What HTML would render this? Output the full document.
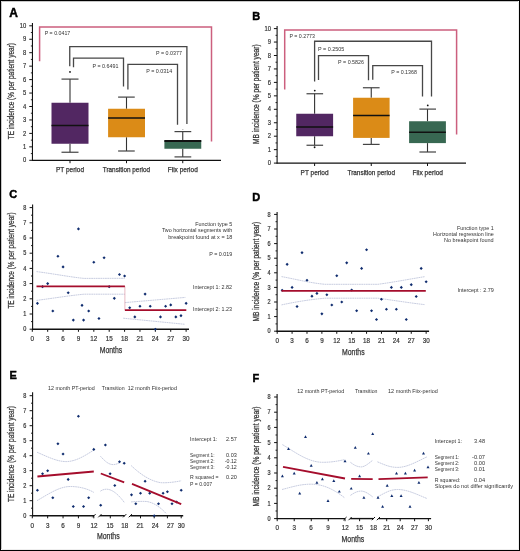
<!DOCTYPE html>
<html><head><meta charset="utf-8"><title>Figure</title>
<style>
html,body{margin:0;padding:0;background:#fff;}
body{width:520px;height:551px;overflow:hidden;}
.fig{position:relative;width:520px;height:551px;background:#fff;}
svg{position:absolute;left:0;top:0;will-change:transform;}
svg text{font-family:"Liberation Sans", sans-serif;}
</style></head><body>
<div class="fig">
<svg width="520" height="551" viewBox="0 0 520 551">
<path d="M1.5,549 V1.5 H518" fill="none" stroke="#c8c8c8" stroke-width="1"/>
<path d="M2,549.5 H518.5 V2" fill="none" stroke="#eeeeee" stroke-width="1"/>
<rect x="0.5" y="0.5" width="519" height="550" fill="none" stroke="#000" stroke-width="1"/>
<text x="9.20" y="16.80" font-size="12" fill="#000" stroke="#000" stroke-width="0.45" font-weight="bold">A</text>
<line x1="32.45" y1="23.00" x2="32.45" y2="160.80" stroke="#111" stroke-width="1.1" />
<line x1="29.25" y1="160.30" x2="32.45" y2="160.30" stroke="#111" stroke-width="1.0" />
<text x="26.30" y="162.40" font-size="7.0" fill="#333" stroke="#333" stroke-width="0.2" text-anchor="end" textLength="3.25" lengthAdjust="spacingAndGlyphs">0</text>
<line x1="30.85" y1="153.58" x2="32.45" y2="153.58" stroke="#111" stroke-width="0.9" />
<line x1="29.25" y1="146.85" x2="32.45" y2="146.85" stroke="#111" stroke-width="1.0" />
<text x="26.30" y="148.95" font-size="7.0" fill="#333" stroke="#333" stroke-width="0.2" text-anchor="end" textLength="3.25" lengthAdjust="spacingAndGlyphs">1</text>
<line x1="30.85" y1="140.13" x2="32.45" y2="140.13" stroke="#111" stroke-width="0.9" />
<line x1="29.25" y1="133.40" x2="32.45" y2="133.40" stroke="#111" stroke-width="1.0" />
<text x="26.30" y="135.50" font-size="7.0" fill="#333" stroke="#333" stroke-width="0.2" text-anchor="end" textLength="3.25" lengthAdjust="spacingAndGlyphs">2</text>
<line x1="30.85" y1="126.68" x2="32.45" y2="126.68" stroke="#111" stroke-width="0.9" />
<line x1="29.25" y1="119.95" x2="32.45" y2="119.95" stroke="#111" stroke-width="1.0" />
<text x="26.30" y="122.05" font-size="7.0" fill="#333" stroke="#333" stroke-width="0.2" text-anchor="end" textLength="3.25" lengthAdjust="spacingAndGlyphs">3</text>
<line x1="30.85" y1="113.23" x2="32.45" y2="113.23" stroke="#111" stroke-width="0.9" />
<line x1="29.25" y1="106.50" x2="32.45" y2="106.50" stroke="#111" stroke-width="1.0" />
<text x="26.30" y="108.60" font-size="7.0" fill="#333" stroke="#333" stroke-width="0.2" text-anchor="end" textLength="3.25" lengthAdjust="spacingAndGlyphs">4</text>
<line x1="30.85" y1="99.78" x2="32.45" y2="99.78" stroke="#111" stroke-width="0.9" />
<line x1="29.25" y1="93.05" x2="32.45" y2="93.05" stroke="#111" stroke-width="1.0" />
<text x="26.30" y="95.15" font-size="7.0" fill="#333" stroke="#333" stroke-width="0.2" text-anchor="end" textLength="3.25" lengthAdjust="spacingAndGlyphs">5</text>
<line x1="30.85" y1="86.33" x2="32.45" y2="86.33" stroke="#111" stroke-width="0.9" />
<line x1="29.25" y1="79.60" x2="32.45" y2="79.60" stroke="#111" stroke-width="1.0" />
<text x="26.30" y="81.70" font-size="7.0" fill="#333" stroke="#333" stroke-width="0.2" text-anchor="end" textLength="3.25" lengthAdjust="spacingAndGlyphs">6</text>
<line x1="30.85" y1="72.88" x2="32.45" y2="72.88" stroke="#111" stroke-width="0.9" />
<line x1="29.25" y1="66.15" x2="32.45" y2="66.15" stroke="#111" stroke-width="1.0" />
<text x="26.30" y="68.25" font-size="7.0" fill="#333" stroke="#333" stroke-width="0.2" text-anchor="end" textLength="3.25" lengthAdjust="spacingAndGlyphs">7</text>
<line x1="30.85" y1="59.43" x2="32.45" y2="59.43" stroke="#111" stroke-width="0.9" />
<line x1="29.25" y1="52.70" x2="32.45" y2="52.70" stroke="#111" stroke-width="1.0" />
<text x="26.30" y="54.80" font-size="7.0" fill="#333" stroke="#333" stroke-width="0.2" text-anchor="end" textLength="3.25" lengthAdjust="spacingAndGlyphs">8</text>
<line x1="30.85" y1="45.98" x2="32.45" y2="45.98" stroke="#111" stroke-width="0.9" />
<line x1="29.25" y1="39.25" x2="32.45" y2="39.25" stroke="#111" stroke-width="1.0" />
<text x="26.30" y="41.35" font-size="7.0" fill="#333" stroke="#333" stroke-width="0.2" text-anchor="end" textLength="3.25" lengthAdjust="spacingAndGlyphs">9</text>
<line x1="30.85" y1="32.53" x2="32.45" y2="32.53" stroke="#111" stroke-width="0.9" />
<line x1="29.25" y1="25.80" x2="32.45" y2="25.80" stroke="#111" stroke-width="1.0" />
<text x="26.30" y="27.90" font-size="7.0" fill="#333" stroke="#333" stroke-width="0.2" text-anchor="end" textLength="6.50" lengthAdjust="spacingAndGlyphs">10</text>
<line x1="32.00" y1="160.30" x2="221.00" y2="160.30" stroke="#111" stroke-width="1.3" />
<line x1="70.00" y1="160.30" x2="70.00" y2="163.20" stroke="#111" stroke-width="1.0" />
<line x1="126.50" y1="160.30" x2="126.50" y2="163.20" stroke="#111" stroke-width="1.0" />
<line x1="182.75" y1="160.30" x2="182.75" y2="163.20" stroke="#111" stroke-width="1.0" />
<text x="14.10" y="91.10" font-size="8.4" fill="#333" stroke="#333" stroke-width="0.25" text-anchor="middle" textLength="96.20" lengthAdjust="spacingAndGlyphs" transform="rotate(-90 14.10 91.10)">TE incidence (% per patient year)</text>
<line x1="70.00" y1="79.10" x2="70.00" y2="102.75" stroke="#333" stroke-width="1.1" />
<line x1="70.00" y1="143.75" x2="70.00" y2="152.25" stroke="#333" stroke-width="1.1" />
<line x1="61.50" y1="79.10" x2="78.50" y2="79.10" stroke="#444" stroke-width="1.2" />
<line x1="61.50" y1="152.25" x2="78.50" y2="152.25" stroke="#444" stroke-width="1.2" />
<rect x="51.50" y="102.75" width="37.00" height="41.00" fill="#522762"/>
<line x1="51.50" y1="125.60" x2="88.50" y2="125.60" stroke="#111" stroke-width="1.5" />
<line x1="126.50" y1="97.10" x2="126.50" y2="108.75" stroke="#333" stroke-width="1.1" />
<line x1="126.50" y1="137.25" x2="126.50" y2="151.00" stroke="#333" stroke-width="1.1" />
<line x1="118.10" y1="97.10" x2="134.75" y2="97.10" stroke="#444" stroke-width="1.2" />
<line x1="118.10" y1="151.00" x2="134.75" y2="151.00" stroke="#444" stroke-width="1.2" />
<rect x="108.10" y="108.75" width="36.90" height="28.50" fill="#db8b17"/>
<line x1="108.10" y1="117.90" x2="145.00" y2="117.90" stroke="#111" stroke-width="1.5" />
<line x1="182.75" y1="131.60" x2="182.75" y2="140.25" stroke="#333" stroke-width="1.1" />
<line x1="182.75" y1="148.75" x2="182.75" y2="156.90" stroke="#333" stroke-width="1.1" />
<line x1="174.50" y1="131.60" x2="191.25" y2="131.60" stroke="#444" stroke-width="1.2" />
<line x1="174.50" y1="156.90" x2="191.25" y2="156.90" stroke="#444" stroke-width="1.2" />
<rect x="164.40" y="140.25" width="36.85" height="8.50" fill="#386852"/>
<line x1="164.40" y1="141.00" x2="201.25" y2="141.00" stroke="#111" stroke-width="1.8" />
<circle cx="70.00" cy="71.90" r="0.9" fill="#111"/>
<circle cx="182.90" cy="129.40" r="0.5" fill="#888"/>
<path d="M39.6,61.3 V26.9 H211.5 V141.6" fill="none" stroke="#cc5f7e" stroke-width="1.5" />
<path d="M69.75,66.3 V46.6 H186.9 V124.1" fill="none" stroke="#474747" stroke-width="1.3" />
<path d="M73.5,67.3 V58.1 H123.5 V86.5" fill="none" stroke="#474747" stroke-width="1.3" />
<path d="M127.9,89.4 V64.4 H177.5 V124.75" fill="none" stroke="#474747" stroke-width="1.3" />
<text x="44.75" y="34.90" font-size="5.6" fill="#333" textLength="25.50" lengthAdjust="spacingAndGlyphs">P = 0.0417</text>
<text x="156.00" y="54.80" font-size="5.6" fill="#333" textLength="25.90" lengthAdjust="spacingAndGlyphs">P = 0.0377</text>
<text x="92.50" y="67.60" font-size="5.6" fill="#333" textLength="25.90" lengthAdjust="spacingAndGlyphs">P = 0.6491</text>
<text x="146.25" y="73.00" font-size="5.6" fill="#333" textLength="25.90" lengthAdjust="spacingAndGlyphs">P = 0.0314</text>
<text x="70.00" y="171.80" font-size="7" fill="#333" stroke="#333" stroke-width="0.25" text-anchor="middle" textLength="28.00" lengthAdjust="spacingAndGlyphs">PT period</text>
<text x="126.40" y="171.80" font-size="7" fill="#333" stroke="#333" stroke-width="0.25" text-anchor="middle" textLength="47.30" lengthAdjust="spacingAndGlyphs">Transition period</text>
<text x="182.75" y="171.80" font-size="7" fill="#333" stroke="#333" stroke-width="0.25" text-anchor="middle" textLength="30.00" lengthAdjust="spacingAndGlyphs">Fiix period</text>
<text x="252.30" y="19.75" font-size="11" fill="#000" stroke="#000" stroke-width="0.45" font-weight="bold">B</text>
<line x1="277.10" y1="26.00" x2="277.10" y2="163.60" stroke="#111" stroke-width="1.1" />
<line x1="273.90" y1="163.10" x2="277.10" y2="163.10" stroke="#111" stroke-width="1.0" />
<text x="271.10" y="165.20" font-size="7.0" fill="#333" stroke="#333" stroke-width="0.2" text-anchor="end" textLength="3.25" lengthAdjust="spacingAndGlyphs">0</text>
<line x1="275.50" y1="156.38" x2="277.10" y2="156.38" stroke="#111" stroke-width="0.9" />
<line x1="273.90" y1="149.65" x2="277.10" y2="149.65" stroke="#111" stroke-width="1.0" />
<text x="271.10" y="151.75" font-size="7.0" fill="#333" stroke="#333" stroke-width="0.2" text-anchor="end" textLength="3.25" lengthAdjust="spacingAndGlyphs">1</text>
<line x1="275.50" y1="142.93" x2="277.10" y2="142.93" stroke="#111" stroke-width="0.9" />
<line x1="273.90" y1="136.20" x2="277.10" y2="136.20" stroke="#111" stroke-width="1.0" />
<text x="271.10" y="138.30" font-size="7.0" fill="#333" stroke="#333" stroke-width="0.2" text-anchor="end" textLength="3.25" lengthAdjust="spacingAndGlyphs">2</text>
<line x1="275.50" y1="129.47" x2="277.10" y2="129.47" stroke="#111" stroke-width="0.9" />
<line x1="273.90" y1="122.75" x2="277.10" y2="122.75" stroke="#111" stroke-width="1.0" />
<text x="271.10" y="124.85" font-size="7.0" fill="#333" stroke="#333" stroke-width="0.2" text-anchor="end" textLength="3.25" lengthAdjust="spacingAndGlyphs">3</text>
<line x1="275.50" y1="116.03" x2="277.10" y2="116.03" stroke="#111" stroke-width="0.9" />
<line x1="273.90" y1="109.30" x2="277.10" y2="109.30" stroke="#111" stroke-width="1.0" />
<text x="271.10" y="111.40" font-size="7.0" fill="#333" stroke="#333" stroke-width="0.2" text-anchor="end" textLength="3.25" lengthAdjust="spacingAndGlyphs">4</text>
<line x1="275.50" y1="102.58" x2="277.10" y2="102.58" stroke="#111" stroke-width="0.9" />
<line x1="273.90" y1="95.85" x2="277.10" y2="95.85" stroke="#111" stroke-width="1.0" />
<text x="271.10" y="97.95" font-size="7.0" fill="#333" stroke="#333" stroke-width="0.2" text-anchor="end" textLength="3.25" lengthAdjust="spacingAndGlyphs">5</text>
<line x1="275.50" y1="89.12" x2="277.10" y2="89.12" stroke="#111" stroke-width="0.9" />
<line x1="273.90" y1="82.40" x2="277.10" y2="82.40" stroke="#111" stroke-width="1.0" />
<text x="271.10" y="84.50" font-size="7.0" fill="#333" stroke="#333" stroke-width="0.2" text-anchor="end" textLength="3.25" lengthAdjust="spacingAndGlyphs">6</text>
<line x1="275.50" y1="75.68" x2="277.10" y2="75.68" stroke="#111" stroke-width="0.9" />
<line x1="273.90" y1="68.95" x2="277.10" y2="68.95" stroke="#111" stroke-width="1.0" />
<text x="271.10" y="71.05" font-size="7.0" fill="#333" stroke="#333" stroke-width="0.2" text-anchor="end" textLength="3.25" lengthAdjust="spacingAndGlyphs">7</text>
<line x1="275.50" y1="62.23" x2="277.10" y2="62.23" stroke="#111" stroke-width="0.9" />
<line x1="273.90" y1="55.50" x2="277.10" y2="55.50" stroke="#111" stroke-width="1.0" />
<text x="271.10" y="57.60" font-size="7.0" fill="#333" stroke="#333" stroke-width="0.2" text-anchor="end" textLength="3.25" lengthAdjust="spacingAndGlyphs">8</text>
<line x1="275.50" y1="48.77" x2="277.10" y2="48.77" stroke="#111" stroke-width="0.9" />
<line x1="273.90" y1="42.05" x2="277.10" y2="42.05" stroke="#111" stroke-width="1.0" />
<text x="271.10" y="44.15" font-size="7.0" fill="#333" stroke="#333" stroke-width="0.2" text-anchor="end" textLength="3.25" lengthAdjust="spacingAndGlyphs">9</text>
<line x1="275.50" y1="35.32" x2="277.10" y2="35.32" stroke="#111" stroke-width="0.9" />
<line x1="273.90" y1="28.60" x2="277.10" y2="28.60" stroke="#111" stroke-width="1.0" />
<text x="271.10" y="30.70" font-size="7.0" fill="#333" stroke="#333" stroke-width="0.2" text-anchor="end" textLength="6.50" lengthAdjust="spacingAndGlyphs">10</text>
<line x1="276.60" y1="163.10" x2="466.00" y2="163.10" stroke="#111" stroke-width="1.3" />
<line x1="314.60" y1="163.10" x2="314.60" y2="166.00" stroke="#111" stroke-width="1.0" />
<line x1="371.25" y1="163.10" x2="371.25" y2="166.00" stroke="#111" stroke-width="1.0" />
<line x1="427.50" y1="163.10" x2="427.50" y2="166.00" stroke="#111" stroke-width="1.0" />
<text x="259.20" y="94.20" font-size="8.6" fill="#333" stroke="#333" stroke-width="0.25" text-anchor="middle" textLength="99.80" lengthAdjust="spacingAndGlyphs" transform="rotate(-90 259.20 94.20)">MB incidence (% per patient year)</text>
<line x1="314.60" y1="93.75" x2="314.60" y2="113.75" stroke="#333" stroke-width="1.1" />
<line x1="314.60" y1="136.25" x2="314.60" y2="145.25" stroke="#333" stroke-width="1.1" />
<line x1="306.50" y1="93.75" x2="323.10" y2="93.75" stroke="#444" stroke-width="1.2" />
<line x1="306.50" y1="145.25" x2="323.10" y2="145.25" stroke="#444" stroke-width="1.2" />
<rect x="296.25" y="113.75" width="36.85" height="22.50" fill="#522762"/>
<line x1="296.25" y1="126.90" x2="333.10" y2="126.90" stroke="#111" stroke-width="1.5" />
<line x1="371.25" y1="87.75" x2="371.25" y2="97.75" stroke="#333" stroke-width="1.1" />
<line x1="371.25" y1="137.90" x2="371.25" y2="144.40" stroke="#333" stroke-width="1.1" />
<line x1="362.90" y1="87.75" x2="379.60" y2="87.75" stroke="#444" stroke-width="1.2" />
<line x1="362.90" y1="144.40" x2="379.60" y2="144.40" stroke="#444" stroke-width="1.2" />
<rect x="353.10" y="97.75" width="36.50" height="40.15" fill="#db8b17"/>
<line x1="353.10" y1="115.40" x2="389.60" y2="115.40" stroke="#111" stroke-width="1.5" />
<line x1="427.50" y1="109.10" x2="427.50" y2="121.25" stroke="#333" stroke-width="1.1" />
<line x1="427.50" y1="143.10" x2="427.50" y2="152.00" stroke="#333" stroke-width="1.1" />
<line x1="419.40" y1="109.10" x2="436.00" y2="109.10" stroke="#444" stroke-width="1.2" />
<line x1="419.40" y1="152.00" x2="436.00" y2="152.00" stroke="#444" stroke-width="1.2" />
<rect x="409.10" y="121.25" width="36.80" height="21.85" fill="#386852"/>
<line x1="409.10" y1="132.25" x2="445.90" y2="132.25" stroke="#111" stroke-width="1.5" />
<circle cx="314.75" cy="90.60" r="0.9" fill="#111"/>
<circle cx="314.60" cy="147.25" r="0.9" fill="#111"/>
<circle cx="427.75" cy="105.40" r="0.9" fill="#111"/>
<path d="M284.7,89.6 V30.1 H456.6 V134.6" fill="none" stroke="#cc5f7e" stroke-width="1.5" />
<path d="M314.6,81.5 V41.25 H431.5 V96.5" fill="none" stroke="#474747" stroke-width="1.3" />
<path d="M318.5,80 V55.6 H368.5 V80.25" fill="none" stroke="#474747" stroke-width="1.3" />
<path d="M372.75,79.75 V65.6 H422.5 V96.5" fill="none" stroke="#474747" stroke-width="1.3" />
<text x="289.40" y="38.00" font-size="5.6" fill="#333" textLength="25.60" lengthAdjust="spacingAndGlyphs">P = 0.2773</text>
<text x="318.10" y="50.75" font-size="5.6" fill="#333" textLength="26.30" lengthAdjust="spacingAndGlyphs">P = 0.2505</text>
<text x="338.10" y="64.10" font-size="5.6" fill="#333" textLength="25.90" lengthAdjust="spacingAndGlyphs">P = 0.5826</text>
<text x="391.25" y="74.25" font-size="5.6" fill="#333" textLength="25.65" lengthAdjust="spacingAndGlyphs">P = 0.1368</text>
<text x="314.60" y="174.80" font-size="7" fill="#333" stroke="#333" stroke-width="0.25" text-anchor="middle" textLength="28.00" lengthAdjust="spacingAndGlyphs">PT period</text>
<text x="371.25" y="174.80" font-size="7" fill="#333" stroke="#333" stroke-width="0.25" text-anchor="middle" textLength="47.50" lengthAdjust="spacingAndGlyphs">Transition period</text>
<text x="427.75" y="174.80" font-size="7" fill="#333" stroke="#333" stroke-width="0.25" text-anchor="middle" textLength="30.50" lengthAdjust="spacingAndGlyphs">Fiix period</text>
<text x="9.20" y="198.20" font-size="11" fill="#000" stroke="#000" stroke-width="0.45" font-weight="bold">C</text>
<line x1="32.60" y1="204.50" x2="32.60" y2="329.70" stroke="#111" stroke-width="1.1" />
<line x1="29.60" y1="329.20" x2="32.60" y2="329.20" stroke="#111" stroke-width="1.0" />
<text x="26.30" y="331.40" font-size="6.3" fill="#333" stroke="#333" stroke-width="0.2" text-anchor="end" textLength="3.10" lengthAdjust="spacingAndGlyphs">0</text>
<line x1="31.00" y1="321.60" x2="32.60" y2="321.60" stroke="#111" stroke-width="0.9" />
<line x1="29.60" y1="314.00" x2="32.60" y2="314.00" stroke="#111" stroke-width="1.0" />
<text x="26.30" y="316.20" font-size="6.3" fill="#333" stroke="#333" stroke-width="0.2" text-anchor="end" textLength="3.10" lengthAdjust="spacingAndGlyphs">1</text>
<line x1="31.00" y1="306.40" x2="32.60" y2="306.40" stroke="#111" stroke-width="0.9" />
<line x1="29.60" y1="298.80" x2="32.60" y2="298.80" stroke="#111" stroke-width="1.0" />
<text x="26.30" y="301.00" font-size="6.3" fill="#333" stroke="#333" stroke-width="0.2" text-anchor="end" textLength="3.10" lengthAdjust="spacingAndGlyphs">2</text>
<line x1="31.00" y1="291.20" x2="32.60" y2="291.20" stroke="#111" stroke-width="0.9" />
<line x1="29.60" y1="283.60" x2="32.60" y2="283.60" stroke="#111" stroke-width="1.0" />
<text x="26.30" y="285.80" font-size="6.3" fill="#333" stroke="#333" stroke-width="0.2" text-anchor="end" textLength="3.10" lengthAdjust="spacingAndGlyphs">3</text>
<line x1="31.00" y1="276.00" x2="32.60" y2="276.00" stroke="#111" stroke-width="0.9" />
<line x1="29.60" y1="268.40" x2="32.60" y2="268.40" stroke="#111" stroke-width="1.0" />
<text x="26.30" y="270.60" font-size="6.3" fill="#333" stroke="#333" stroke-width="0.2" text-anchor="end" textLength="3.10" lengthAdjust="spacingAndGlyphs">4</text>
<line x1="31.00" y1="260.80" x2="32.60" y2="260.80" stroke="#111" stroke-width="0.9" />
<line x1="29.60" y1="253.20" x2="32.60" y2="253.20" stroke="#111" stroke-width="1.0" />
<text x="26.30" y="255.40" font-size="6.3" fill="#333" stroke="#333" stroke-width="0.2" text-anchor="end" textLength="3.10" lengthAdjust="spacingAndGlyphs">5</text>
<line x1="31.00" y1="245.60" x2="32.60" y2="245.60" stroke="#111" stroke-width="0.9" />
<line x1="29.60" y1="238.00" x2="32.60" y2="238.00" stroke="#111" stroke-width="1.0" />
<text x="26.30" y="240.20" font-size="6.3" fill="#333" stroke="#333" stroke-width="0.2" text-anchor="end" textLength="3.10" lengthAdjust="spacingAndGlyphs">6</text>
<line x1="31.00" y1="230.40" x2="32.60" y2="230.40" stroke="#111" stroke-width="0.9" />
<line x1="29.60" y1="222.80" x2="32.60" y2="222.80" stroke="#111" stroke-width="1.0" />
<text x="26.30" y="225.00" font-size="6.3" fill="#333" stroke="#333" stroke-width="0.2" text-anchor="end" textLength="3.10" lengthAdjust="spacingAndGlyphs">7</text>
<line x1="31.00" y1="215.20" x2="32.60" y2="215.20" stroke="#111" stroke-width="0.9" />
<line x1="29.60" y1="207.60" x2="32.60" y2="207.60" stroke="#111" stroke-width="1.0" />
<text x="26.30" y="209.80" font-size="6.3" fill="#333" stroke="#333" stroke-width="0.2" text-anchor="end" textLength="3.10" lengthAdjust="spacingAndGlyphs">8</text>
<line x1="32.10" y1="329.20" x2="189.00" y2="329.20" stroke="#111" stroke-width="1.4" />
<line x1="32.30" y1="329.20" x2="32.30" y2="331.80" stroke="#111" stroke-width="1.0" />
<line x1="47.68" y1="329.20" x2="47.68" y2="331.80" stroke="#111" stroke-width="1.0" />
<line x1="63.06" y1="329.20" x2="63.06" y2="331.80" stroke="#111" stroke-width="1.0" />
<line x1="78.44" y1="329.20" x2="78.44" y2="331.80" stroke="#111" stroke-width="1.0" />
<line x1="93.82" y1="329.20" x2="93.82" y2="331.80" stroke="#111" stroke-width="1.0" />
<line x1="109.20" y1="329.20" x2="109.20" y2="331.80" stroke="#111" stroke-width="1.0" />
<line x1="124.59" y1="329.20" x2="124.59" y2="331.80" stroke="#111" stroke-width="1.0" />
<line x1="139.97" y1="329.20" x2="139.97" y2="331.80" stroke="#111" stroke-width="1.0" />
<line x1="155.35" y1="329.20" x2="155.35" y2="331.80" stroke="#111" stroke-width="1.0" />
<line x1="170.73" y1="329.20" x2="170.73" y2="331.80" stroke="#111" stroke-width="1.0" />
<line x1="186.11" y1="329.20" x2="186.11" y2="331.80" stroke="#111" stroke-width="1.0" />
<text x="32.30" y="341.10" font-size="7.0" fill="#333" stroke="#333" stroke-width="0.2" text-anchor="middle" textLength="3.50" lengthAdjust="spacingAndGlyphs">0</text>
<text x="47.68" y="341.10" font-size="7.0" fill="#333" stroke="#333" stroke-width="0.2" text-anchor="middle" textLength="3.50" lengthAdjust="spacingAndGlyphs">3</text>
<text x="63.06" y="341.10" font-size="7.0" fill="#333" stroke="#333" stroke-width="0.2" text-anchor="middle" textLength="3.50" lengthAdjust="spacingAndGlyphs">6</text>
<text x="78.44" y="341.10" font-size="7.0" fill="#333" stroke="#333" stroke-width="0.2" text-anchor="middle" textLength="3.50" lengthAdjust="spacingAndGlyphs">9</text>
<text x="93.82" y="341.10" font-size="7.0" fill="#333" stroke="#333" stroke-width="0.2" text-anchor="middle" textLength="7.00" lengthAdjust="spacingAndGlyphs">12</text>
<text x="109.20" y="341.10" font-size="7.0" fill="#333" stroke="#333" stroke-width="0.2" text-anchor="middle" textLength="7.00" lengthAdjust="spacingAndGlyphs">15</text>
<text x="124.59" y="341.10" font-size="7.0" fill="#333" stroke="#333" stroke-width="0.2" text-anchor="middle" textLength="7.00" lengthAdjust="spacingAndGlyphs">18</text>
<text x="139.97" y="341.10" font-size="7.0" fill="#333" stroke="#333" stroke-width="0.2" text-anchor="middle" textLength="7.00" lengthAdjust="spacingAndGlyphs">21</text>
<text x="155.35" y="341.10" font-size="7.0" fill="#333" stroke="#333" stroke-width="0.2" text-anchor="middle" textLength="7.00" lengthAdjust="spacingAndGlyphs">24</text>
<text x="170.73" y="341.10" font-size="7.0" fill="#333" stroke="#333" stroke-width="0.2" text-anchor="middle" textLength="7.00" lengthAdjust="spacingAndGlyphs">27</text>
<text x="186.11" y="341.10" font-size="7.0" fill="#333" stroke="#333" stroke-width="0.2" text-anchor="middle" textLength="7.00" lengthAdjust="spacingAndGlyphs">30</text>
<text x="99.70" y="352.80" font-size="9" fill="#333" stroke="#333" stroke-width="0.25" textLength="22.60" lengthAdjust="spacingAndGlyphs">Months</text>
<text x="14.10" y="260.50" font-size="8.5" fill="#333" stroke="#333" stroke-width="0.25" text-anchor="middle" textLength="96.20" lengthAdjust="spacingAndGlyphs" transform="rotate(-90 14.10 260.50)">TE incidence (% per patient year)</text>
<path d="M36.5,271.6 C55,274 70,277 84,278.4 L124.9,278.3" fill="none" stroke="#aab2cf" stroke-width="0.65" stroke-dasharray="1.8 0.5"/>
<path d="M36.5,300.4 C55,298 70,295.5 84,294.2 L124.9,294.2" fill="none" stroke="#aab2cf" stroke-width="0.65" stroke-dasharray="1.8 0.5"/>
<path d="M124.9,302.6 L185.4,297.4" fill="none" stroke="#aab2cf" stroke-width="0.65" stroke-dasharray="1.8 0.5"/>
<path d="M123.2,318.2 L184.9,324.3" fill="none" stroke="#aab2cf" stroke-width="0.65" stroke-dasharray="1.8 0.5"/>
<path d="M37.43,301.81 L38.98,303.36 L37.43,304.91 L35.88,303.36 Z" fill="#0f2c6e"/>
<path d="M42.55,285.09 L44.10,286.64 L42.55,288.19 L41.00,286.64 Z" fill="#0f2c6e"/>
<path d="M47.68,282.05 L49.23,283.60 L47.68,285.15 L46.13,283.60 Z" fill="#0f2c6e"/>
<path d="M52.81,309.41 L54.36,310.96 L52.81,312.51 L51.26,310.96 Z" fill="#0f2c6e"/>
<path d="M57.93,254.69 L59.48,256.24 L57.93,257.79 L56.38,256.24 Z" fill="#0f2c6e"/>
<path d="M63.06,265.33 L64.61,266.88 L63.06,268.43 L61.51,266.88 Z" fill="#0f2c6e"/>
<path d="M68.19,291.17 L69.74,292.72 L68.19,294.27 L66.64,292.72 Z" fill="#0f2c6e"/>
<path d="M73.32,318.53 L74.87,320.08 L73.32,321.63 L71.77,320.08 Z" fill="#0f2c6e"/>
<path d="M78.44,227.33 L79.99,228.88 L78.44,230.43 L76.89,228.88 Z" fill="#0f2c6e"/>
<path d="M82.03,303.79 L83.58,305.34 L82.03,306.89 L80.48,305.34 Z" fill="#0f2c6e"/>
<path d="M83.57,318.53 L85.12,320.08 L83.57,321.63 L82.02,320.08 Z" fill="#0f2c6e"/>
<path d="M88.70,309.41 L90.25,310.96 L88.70,312.51 L87.15,310.96 Z" fill="#0f2c6e"/>
<path d="M93.82,260.77 L95.37,262.32 L93.82,263.87 L92.27,262.32 Z" fill="#0f2c6e"/>
<path d="M98.95,317.01 L100.50,318.56 L98.95,320.11 L97.40,318.56 Z" fill="#0f2c6e"/>
<path d="M104.08,256.21 L105.63,257.76 L104.08,259.31 L102.53,257.76 Z" fill="#0f2c6e"/>
<path d="M109.20,285.09 L110.75,286.64 L109.20,288.19 L107.66,286.64 Z" fill="#0f2c6e"/>
<path d="M114.33,296.79 L115.88,298.34 L114.33,299.89 L112.78,298.34 Z" fill="#0f2c6e"/>
<path d="M119.46,272.93 L121.01,274.48 L119.46,276.03 L117.91,274.48 Z" fill="#0f2c6e"/>
<path d="M124.59,274.45 L126.14,276.00 L124.59,277.55 L123.04,276.00 Z" fill="#0f2c6e"/>
<path d="M129.71,306.22 L131.26,307.77 L129.71,309.32 L128.16,307.77 Z" fill="#0f2c6e"/>
<path d="M134.84,315.34 L136.39,316.89 L134.84,318.44 L133.29,316.89 Z" fill="#0f2c6e"/>
<path d="M139.97,304.70 L141.52,306.25 L139.97,307.80 L138.42,306.25 Z" fill="#0f2c6e"/>
<path d="M145.09,292.54 L146.64,294.09 L145.09,295.64 L143.54,294.09 Z" fill="#0f2c6e"/>
<path d="M150.22,304.70 L151.77,306.25 L150.22,307.80 L148.67,306.25 Z" fill="#0f2c6e"/>
<path d="M155.35,327.65 L156.90,329.20 L155.35,330.75 L153.80,329.20 Z" fill="#0f2c6e"/>
<path d="M160.47,315.34 L162.02,316.89 L160.47,318.44 L158.92,316.89 Z" fill="#0f2c6e"/>
<path d="M165.60,304.70 L167.15,306.25 L165.60,307.80 L164.05,306.25 Z" fill="#0f2c6e"/>
<path d="M170.73,303.33 L172.28,304.88 L170.73,306.43 L169.18,304.88 Z" fill="#0f2c6e"/>
<path d="M175.86,315.34 L177.41,316.89 L175.86,318.44 L174.31,316.89 Z" fill="#0f2c6e"/>
<path d="M180.98,314.12 L182.53,315.67 L180.98,317.22 L179.43,315.67 Z" fill="#0f2c6e"/>
<path d="M186.11,301.81 L187.66,303.36 L186.11,304.91 L184.56,303.36 Z" fill="#0f2c6e"/>
<line x1="124.90" y1="286.40" x2="124.90" y2="310.20" stroke="#d98a99" stroke-width="0.6" />
<line x1="36.50" y1="286.40" x2="124.90" y2="286.40" stroke="#a50d2c" stroke-width="1.8" />
<line x1="124.90" y1="310.20" x2="186.30" y2="310.20" stroke="#a50d2c" stroke-width="1.8" />
<text x="232.30" y="226.20" font-size="5.6" fill="#333" text-anchor="end" textLength="37.10" lengthAdjust="spacingAndGlyphs">Function type 5</text>
<text x="232.30" y="232.40" font-size="5.6" fill="#333" text-anchor="end" textLength="70.40" lengthAdjust="spacingAndGlyphs">Two horizontal segments with</text>
<text x="232.30" y="239.10" font-size="5.6" fill="#333" text-anchor="end" textLength="64.00" lengthAdjust="spacingAndGlyphs">breakpoint found at x = 18</text>
<text x="232.30" y="256.40" font-size="5.6" fill="#333" text-anchor="end" textLength="23.10" lengthAdjust="spacingAndGlyphs">P = 0.019</text>
<text x="193.10" y="289.40" font-size="5.6" fill="#333" textLength="39.00" lengthAdjust="spacingAndGlyphs">Intercept 1: 2.82</text>
<text x="193.10" y="311.30" font-size="5.6" fill="#333" textLength="39.00" lengthAdjust="spacingAndGlyphs">Intercept 2: 1.23</text>
<text x="252.30" y="201.30" font-size="11" fill="#000" stroke="#000" stroke-width="0.45" font-weight="bold">D</text>
<line x1="277.10" y1="211.90" x2="277.10" y2="331.70" stroke="#111" stroke-width="1.1" />
<line x1="274.10" y1="331.20" x2="277.10" y2="331.20" stroke="#111" stroke-width="1.0" />
<text x="270.70" y="333.40" font-size="6.3" fill="#333" stroke="#333" stroke-width="0.2" text-anchor="end" textLength="3.10" lengthAdjust="spacingAndGlyphs">0</text>
<line x1="275.50" y1="323.90" x2="277.10" y2="323.90" stroke="#111" stroke-width="0.9" />
<line x1="274.10" y1="316.60" x2="277.10" y2="316.60" stroke="#111" stroke-width="1.0" />
<text x="270.70" y="318.80" font-size="6.3" fill="#333" stroke="#333" stroke-width="0.2" text-anchor="end" textLength="3.10" lengthAdjust="spacingAndGlyphs">1</text>
<line x1="275.50" y1="309.30" x2="277.10" y2="309.30" stroke="#111" stroke-width="0.9" />
<line x1="274.10" y1="302.00" x2="277.10" y2="302.00" stroke="#111" stroke-width="1.0" />
<text x="270.70" y="304.20" font-size="6.3" fill="#333" stroke="#333" stroke-width="0.2" text-anchor="end" textLength="3.10" lengthAdjust="spacingAndGlyphs">2</text>
<line x1="275.50" y1="294.70" x2="277.10" y2="294.70" stroke="#111" stroke-width="0.9" />
<line x1="274.10" y1="287.40" x2="277.10" y2="287.40" stroke="#111" stroke-width="1.0" />
<text x="270.70" y="289.60" font-size="6.3" fill="#333" stroke="#333" stroke-width="0.2" text-anchor="end" textLength="3.10" lengthAdjust="spacingAndGlyphs">3</text>
<line x1="275.50" y1="280.10" x2="277.10" y2="280.10" stroke="#111" stroke-width="0.9" />
<line x1="274.10" y1="272.80" x2="277.10" y2="272.80" stroke="#111" stroke-width="1.0" />
<text x="270.70" y="275.00" font-size="6.3" fill="#333" stroke="#333" stroke-width="0.2" text-anchor="end" textLength="3.10" lengthAdjust="spacingAndGlyphs">4</text>
<line x1="275.50" y1="265.50" x2="277.10" y2="265.50" stroke="#111" stroke-width="0.9" />
<line x1="274.10" y1="258.20" x2="277.10" y2="258.20" stroke="#111" stroke-width="1.0" />
<text x="270.70" y="260.40" font-size="6.3" fill="#333" stroke="#333" stroke-width="0.2" text-anchor="end" textLength="3.10" lengthAdjust="spacingAndGlyphs">5</text>
<line x1="275.50" y1="250.90" x2="277.10" y2="250.90" stroke="#111" stroke-width="0.9" />
<line x1="274.10" y1="243.60" x2="277.10" y2="243.60" stroke="#111" stroke-width="1.0" />
<text x="270.70" y="245.80" font-size="6.3" fill="#333" stroke="#333" stroke-width="0.2" text-anchor="end" textLength="3.10" lengthAdjust="spacingAndGlyphs">6</text>
<line x1="275.50" y1="236.30" x2="277.10" y2="236.30" stroke="#111" stroke-width="0.9" />
<line x1="274.10" y1="229.00" x2="277.10" y2="229.00" stroke="#111" stroke-width="1.0" />
<text x="270.70" y="231.20" font-size="6.3" fill="#333" stroke="#333" stroke-width="0.2" text-anchor="end" textLength="3.10" lengthAdjust="spacingAndGlyphs">7</text>
<line x1="275.50" y1="221.70" x2="277.10" y2="221.70" stroke="#111" stroke-width="0.9" />
<line x1="274.10" y1="214.40" x2="277.10" y2="214.40" stroke="#111" stroke-width="1.0" />
<text x="270.70" y="216.60" font-size="6.3" fill="#333" stroke="#333" stroke-width="0.2" text-anchor="end" textLength="3.10" lengthAdjust="spacingAndGlyphs">8</text>
<line x1="276.60" y1="331.20" x2="429.10" y2="331.20" stroke="#111" stroke-width="1.4" />
<line x1="277.20" y1="331.20" x2="277.20" y2="333.80" stroke="#111" stroke-width="1.0" />
<line x1="292.09" y1="331.20" x2="292.09" y2="333.80" stroke="#111" stroke-width="1.0" />
<line x1="306.99" y1="331.20" x2="306.99" y2="333.80" stroke="#111" stroke-width="1.0" />
<line x1="321.88" y1="331.20" x2="321.88" y2="333.80" stroke="#111" stroke-width="1.0" />
<line x1="336.78" y1="331.20" x2="336.78" y2="333.80" stroke="#111" stroke-width="1.0" />
<line x1="351.67" y1="331.20" x2="351.67" y2="333.80" stroke="#111" stroke-width="1.0" />
<line x1="366.57" y1="331.20" x2="366.57" y2="333.80" stroke="#111" stroke-width="1.0" />
<line x1="381.46" y1="331.20" x2="381.46" y2="333.80" stroke="#111" stroke-width="1.0" />
<line x1="396.36" y1="331.20" x2="396.36" y2="333.80" stroke="#111" stroke-width="1.0" />
<line x1="411.25" y1="331.20" x2="411.25" y2="333.80" stroke="#111" stroke-width="1.0" />
<line x1="426.15" y1="331.20" x2="426.15" y2="333.80" stroke="#111" stroke-width="1.0" />
<text x="277.20" y="343.20" font-size="7.0" fill="#333" stroke="#333" stroke-width="0.2" text-anchor="middle" textLength="3.50" lengthAdjust="spacingAndGlyphs">0</text>
<text x="292.09" y="343.20" font-size="7.0" fill="#333" stroke="#333" stroke-width="0.2" text-anchor="middle" textLength="3.50" lengthAdjust="spacingAndGlyphs">3</text>
<text x="306.99" y="343.20" font-size="7.0" fill="#333" stroke="#333" stroke-width="0.2" text-anchor="middle" textLength="3.50" lengthAdjust="spacingAndGlyphs">6</text>
<text x="321.88" y="343.20" font-size="7.0" fill="#333" stroke="#333" stroke-width="0.2" text-anchor="middle" textLength="3.50" lengthAdjust="spacingAndGlyphs">9</text>
<text x="336.78" y="343.20" font-size="7.0" fill="#333" stroke="#333" stroke-width="0.2" text-anchor="middle" textLength="7.00" lengthAdjust="spacingAndGlyphs">12</text>
<text x="351.67" y="343.20" font-size="7.0" fill="#333" stroke="#333" stroke-width="0.2" text-anchor="middle" textLength="7.00" lengthAdjust="spacingAndGlyphs">15</text>
<text x="366.57" y="343.20" font-size="7.0" fill="#333" stroke="#333" stroke-width="0.2" text-anchor="middle" textLength="7.00" lengthAdjust="spacingAndGlyphs">18</text>
<text x="381.46" y="343.20" font-size="7.0" fill="#333" stroke="#333" stroke-width="0.2" text-anchor="middle" textLength="7.00" lengthAdjust="spacingAndGlyphs">21</text>
<text x="396.36" y="343.20" font-size="7.0" fill="#333" stroke="#333" stroke-width="0.2" text-anchor="middle" textLength="7.00" lengthAdjust="spacingAndGlyphs">24</text>
<text x="411.25" y="343.20" font-size="7.0" fill="#333" stroke="#333" stroke-width="0.2" text-anchor="middle" textLength="7.00" lengthAdjust="spacingAndGlyphs">27</text>
<text x="426.15" y="343.20" font-size="7.0" fill="#333" stroke="#333" stroke-width="0.2" text-anchor="middle" textLength="7.00" lengthAdjust="spacingAndGlyphs">30</text>
<text x="342.00" y="354.90" font-size="9" fill="#333" stroke="#333" stroke-width="0.25" textLength="22.60" lengthAdjust="spacingAndGlyphs">Months</text>
<text x="259.20" y="271.60" font-size="8.5" fill="#333" stroke="#333" stroke-width="0.25" text-anchor="middle" textLength="99.60" lengthAdjust="spacingAndGlyphs" transform="rotate(-90 259.20 271.60)">MB incidence (% per patient year)</text>
<path d="M281.5,276.6 C295,279 310,283 325,284.3 L378,284.3 C395,282 410,279 424.5,276.7" fill="none" stroke="#aab2cf" stroke-width="0.65" stroke-dasharray="1.8 0.5"/>
<path d="M281.5,304.9 C295,302 310,299.5 325,298.2 L378,298.2 C395,300.5 410,303 424.5,304.6" fill="none" stroke="#aab2cf" stroke-width="0.65" stroke-dasharray="1.8 0.5"/>
<path d="M282.16,288.77 L283.71,290.32 L282.16,291.87 L280.61,290.32 Z" fill="#0f2c6e"/>
<path d="M287.13,262.78 L288.68,264.33 L287.13,265.88 L285.58,264.33 Z" fill="#0f2c6e"/>
<path d="M292.09,285.85 L293.64,287.40 L292.09,288.95 L290.54,287.40 Z" fill="#0f2c6e"/>
<path d="M297.06,304.98 L298.61,306.53 L297.06,308.08 L295.51,306.53 Z" fill="#0f2c6e"/>
<path d="M302.02,251.10 L303.57,252.65 L302.02,254.20 L300.47,252.65 Z" fill="#0f2c6e"/>
<path d="M306.99,278.70 L308.54,280.25 L306.99,281.80 L305.44,280.25 Z" fill="#0f2c6e"/>
<path d="M311.95,294.61 L313.50,296.16 L311.95,297.71 L310.40,296.16 Z" fill="#0f2c6e"/>
<path d="M316.92,291.84 L318.47,293.39 L316.92,294.94 L315.37,293.39 Z" fill="#0f2c6e"/>
<path d="M321.88,312.28 L323.44,313.83 L321.88,315.38 L320.33,313.83 Z" fill="#0f2c6e"/>
<path d="M326.85,293.15 L328.40,294.70 L326.85,296.25 L325.30,294.70 Z" fill="#0f2c6e"/>
<path d="M331.81,303.52 L333.37,305.07 L331.81,306.62 L330.26,305.07 Z" fill="#0f2c6e"/>
<path d="M336.78,274.17 L338.33,275.72 L336.78,277.27 L335.23,275.72 Z" fill="#0f2c6e"/>
<path d="M341.75,300.45 L343.30,302.00 L341.75,303.55 L340.19,302.00 Z" fill="#0f2c6e"/>
<path d="M346.71,261.32 L348.26,262.87 L346.71,264.42 L345.16,262.87 Z" fill="#0f2c6e"/>
<path d="M351.67,288.48 L353.22,290.03 L351.67,291.58 L350.12,290.03 Z" fill="#0f2c6e"/>
<path d="M356.64,309.21 L358.19,310.76 L356.64,312.31 L355.09,310.76 Z" fill="#0f2c6e"/>
<path d="M361.61,266.87 L363.16,268.42 L361.61,269.97 L360.06,268.42 Z" fill="#0f2c6e"/>
<path d="M366.57,248.18 L368.12,249.73 L366.57,251.28 L365.02,249.73 Z" fill="#0f2c6e"/>
<path d="M371.53,309.21 L373.08,310.76 L371.53,312.31 L369.98,310.76 Z" fill="#0f2c6e"/>
<path d="M376.50,317.97 L378.05,319.52 L376.50,321.07 L374.95,319.52 Z" fill="#0f2c6e"/>
<path d="M381.46,297.68 L383.01,299.23 L381.46,300.78 L379.91,299.23 Z" fill="#0f2c6e"/>
<path d="M386.43,307.75 L387.98,309.30 L386.43,310.85 L384.88,309.30 Z" fill="#0f2c6e"/>
<path d="M391.39,285.85 L392.94,287.40 L391.39,288.95 L389.84,287.40 Z" fill="#0f2c6e"/>
<path d="M396.36,307.75 L397.91,309.30 L396.36,310.85 L394.81,309.30 Z" fill="#0f2c6e"/>
<path d="M401.32,285.85 L402.88,287.40 L401.32,288.95 L399.77,287.40 Z" fill="#0f2c6e"/>
<path d="M406.29,317.97 L407.84,319.52 L406.29,321.07 L404.74,319.52 Z" fill="#0f2c6e"/>
<path d="M411.25,283.08 L412.81,284.63 L411.25,286.18 L409.70,284.63 Z" fill="#0f2c6e"/>
<path d="M416.22,294.90 L417.77,296.45 L416.22,298.00 L414.67,296.45 Z" fill="#0f2c6e"/>
<path d="M421.18,266.87 L422.73,268.42 L421.18,269.97 L419.63,268.42 Z" fill="#0f2c6e"/>
<path d="M426.15,280.16 L427.70,281.71 L426.15,283.26 L424.60,281.71 Z" fill="#0f2c6e"/>
<line x1="281.50" y1="290.80" x2="425.80" y2="290.80" stroke="#a50d2c" stroke-width="1.8" />
<text x="493.70" y="229.90" font-size="5.6" fill="#333" text-anchor="end" textLength="36.80" lengthAdjust="spacingAndGlyphs">Function type 1</text>
<text x="493.70" y="236.20" font-size="5.6" fill="#333" text-anchor="end" textLength="60.60" lengthAdjust="spacingAndGlyphs">Horizontal regression line</text>
<text x="493.70" y="242.00" font-size="5.6" fill="#333" text-anchor="end" textLength="49.70" lengthAdjust="spacingAndGlyphs">No breakpoint found</text>
<text x="493.70" y="292.00" font-size="5.6" fill="#333" text-anchor="end" textLength="36.20" lengthAdjust="spacingAndGlyphs">Intercept : 2.79</text>
<text x="9.60" y="378.80" font-size="11" fill="#000" stroke="#000" stroke-width="0.45" font-weight="bold">E</text>
<line x1="32.60" y1="392.30" x2="32.60" y2="516.20" stroke="#111" stroke-width="1.1" />
<line x1="29.60" y1="515.70" x2="32.60" y2="515.70" stroke="#111" stroke-width="1.0" />
<text x="26.30" y="517.90" font-size="6.3" fill="#333" stroke="#333" stroke-width="0.2" text-anchor="end" textLength="3.10" lengthAdjust="spacingAndGlyphs">0</text>
<line x1="31.00" y1="508.20" x2="32.60" y2="508.20" stroke="#111" stroke-width="0.9" />
<line x1="29.60" y1="500.70" x2="32.60" y2="500.70" stroke="#111" stroke-width="1.0" />
<text x="26.30" y="502.90" font-size="6.3" fill="#333" stroke="#333" stroke-width="0.2" text-anchor="end" textLength="3.10" lengthAdjust="spacingAndGlyphs">1</text>
<line x1="31.00" y1="493.20" x2="32.60" y2="493.20" stroke="#111" stroke-width="0.9" />
<line x1="29.60" y1="485.70" x2="32.60" y2="485.70" stroke="#111" stroke-width="1.0" />
<text x="26.30" y="487.90" font-size="6.3" fill="#333" stroke="#333" stroke-width="0.2" text-anchor="end" textLength="3.10" lengthAdjust="spacingAndGlyphs">2</text>
<line x1="31.00" y1="478.20" x2="32.60" y2="478.20" stroke="#111" stroke-width="0.9" />
<line x1="29.60" y1="470.70" x2="32.60" y2="470.70" stroke="#111" stroke-width="1.0" />
<text x="26.30" y="472.90" font-size="6.3" fill="#333" stroke="#333" stroke-width="0.2" text-anchor="end" textLength="3.10" lengthAdjust="spacingAndGlyphs">3</text>
<line x1="31.00" y1="463.20" x2="32.60" y2="463.20" stroke="#111" stroke-width="0.9" />
<line x1="29.60" y1="455.70" x2="32.60" y2="455.70" stroke="#111" stroke-width="1.0" />
<text x="26.30" y="457.90" font-size="6.3" fill="#333" stroke="#333" stroke-width="0.2" text-anchor="end" textLength="3.10" lengthAdjust="spacingAndGlyphs">4</text>
<line x1="31.00" y1="448.20" x2="32.60" y2="448.20" stroke="#111" stroke-width="0.9" />
<line x1="29.60" y1="440.70" x2="32.60" y2="440.70" stroke="#111" stroke-width="1.0" />
<text x="26.30" y="442.90" font-size="6.3" fill="#333" stroke="#333" stroke-width="0.2" text-anchor="end" textLength="3.10" lengthAdjust="spacingAndGlyphs">5</text>
<line x1="31.00" y1="433.20" x2="32.60" y2="433.20" stroke="#111" stroke-width="0.9" />
<line x1="29.60" y1="425.70" x2="32.60" y2="425.70" stroke="#111" stroke-width="1.0" />
<text x="26.30" y="427.90" font-size="6.3" fill="#333" stroke="#333" stroke-width="0.2" text-anchor="end" textLength="3.10" lengthAdjust="spacingAndGlyphs">6</text>
<line x1="31.00" y1="418.20" x2="32.60" y2="418.20" stroke="#111" stroke-width="0.9" />
<line x1="29.60" y1="410.70" x2="32.60" y2="410.70" stroke="#111" stroke-width="1.0" />
<text x="26.30" y="412.90" font-size="6.3" fill="#333" stroke="#333" stroke-width="0.2" text-anchor="end" textLength="3.10" lengthAdjust="spacingAndGlyphs">7</text>
<line x1="31.00" y1="403.20" x2="32.60" y2="403.20" stroke="#111" stroke-width="0.9" />
<line x1="29.60" y1="395.70" x2="32.60" y2="395.70" stroke="#111" stroke-width="1.0" />
<text x="26.30" y="397.90" font-size="6.3" fill="#333" stroke="#333" stroke-width="0.2" text-anchor="end" textLength="3.10" lengthAdjust="spacingAndGlyphs">8</text>
<line x1="32.10" y1="515.70" x2="94.00" y2="515.70" stroke="#111" stroke-width="1.4" />
<line x1="92.40" y1="517.30" x2="95.60" y2="514.10" stroke="#111" stroke-width="1.0" />
<line x1="99.90" y1="515.70" x2="124.70" y2="515.70" stroke="#111" stroke-width="1.4" />
<line x1="98.30" y1="517.30" x2="101.50" y2="514.10" stroke="#111" stroke-width="1.0" />
<line x1="123.10" y1="517.30" x2="126.30" y2="514.10" stroke="#111" stroke-width="1.0" />
<line x1="130.30" y1="515.70" x2="183.20" y2="515.70" stroke="#111" stroke-width="1.4" />
<line x1="128.70" y1="517.30" x2="131.90" y2="514.10" stroke="#111" stroke-width="1.0" />
<line x1="32.30" y1="515.70" x2="32.30" y2="518.30" stroke="#111" stroke-width="1.0" />
<line x1="47.67" y1="515.70" x2="47.67" y2="518.30" stroke="#111" stroke-width="1.0" />
<line x1="63.05" y1="515.70" x2="63.05" y2="518.30" stroke="#111" stroke-width="1.0" />
<line x1="78.42" y1="515.70" x2="78.42" y2="518.30" stroke="#111" stroke-width="1.0" />
<line x1="93.80" y1="515.70" x2="93.80" y2="518.30" stroke="#111" stroke-width="1.0" />
<line x1="110.30" y1="515.70" x2="110.30" y2="518.30" stroke="#111" stroke-width="1.0" />
<line x1="140.50" y1="515.70" x2="140.50" y2="518.30" stroke="#111" stroke-width="1.0" />
<line x1="154.20" y1="515.70" x2="154.20" y2="518.30" stroke="#111" stroke-width="1.0" />
<line x1="167.40" y1="515.70" x2="167.40" y2="518.30" stroke="#111" stroke-width="1.0" />
<line x1="181.20" y1="515.70" x2="181.20" y2="518.30" stroke="#111" stroke-width="1.0" />
<text x="32.30" y="527.80" font-size="7.0" fill="#333" stroke="#333" stroke-width="0.2" text-anchor="middle" textLength="3.50" lengthAdjust="spacingAndGlyphs">0</text>
<text x="47.70" y="527.80" font-size="7.0" fill="#333" stroke="#333" stroke-width="0.2" text-anchor="middle" textLength="3.50" lengthAdjust="spacingAndGlyphs">3</text>
<text x="63.10" y="527.80" font-size="7.0" fill="#333" stroke="#333" stroke-width="0.2" text-anchor="middle" textLength="3.50" lengthAdjust="spacingAndGlyphs">6</text>
<text x="78.50" y="527.80" font-size="7.0" fill="#333" stroke="#333" stroke-width="0.2" text-anchor="middle" textLength="3.50" lengthAdjust="spacingAndGlyphs">9</text>
<text x="94.00" y="527.80" font-size="7.0" fill="#333" stroke="#333" stroke-width="0.2" text-anchor="middle" textLength="7.00" lengthAdjust="spacingAndGlyphs">12</text>
<text x="110.10" y="527.80" font-size="7.0" fill="#333" stroke="#333" stroke-width="0.2" text-anchor="middle" textLength="7.00" lengthAdjust="spacingAndGlyphs">15</text>
<text x="124.70" y="527.80" font-size="7.0" fill="#333" stroke="#333" stroke-width="0.2" text-anchor="middle" textLength="7.00" lengthAdjust="spacingAndGlyphs">18</text>
<text x="140.10" y="527.80" font-size="7.0" fill="#333" stroke="#333" stroke-width="0.2" text-anchor="middle" textLength="7.00" lengthAdjust="spacingAndGlyphs">21</text>
<text x="155.30" y="527.80" font-size="7.0" fill="#333" stroke="#333" stroke-width="0.2" text-anchor="middle" textLength="7.00" lengthAdjust="spacingAndGlyphs">24</text>
<text x="170.50" y="527.80" font-size="7.0" fill="#333" stroke="#333" stroke-width="0.2" text-anchor="middle" textLength="7.00" lengthAdjust="spacingAndGlyphs">27</text>
<text x="181.20" y="527.80" font-size="7.0" fill="#333" stroke="#333" stroke-width="0.2" text-anchor="middle" textLength="7.00" lengthAdjust="spacingAndGlyphs">30</text>
<text x="96.90" y="539.20" font-size="9" fill="#333" stroke="#333" stroke-width="0.25" textLength="22.80" lengthAdjust="spacingAndGlyphs">Months</text>
<text x="14.10" y="454.00" font-size="8.4" fill="#333" stroke="#333" stroke-width="0.25" text-anchor="middle" textLength="96.00" lengthAdjust="spacingAndGlyphs" transform="rotate(-90 14.10 454.00)">TE incidence (% per patient year)</text>
<text x="48.00" y="389.60" font-size="5.6" fill="#333" textLength="46.80" lengthAdjust="spacingAndGlyphs">12 month PT-period</text>
<text x="101.80" y="389.60" font-size="5.6" fill="#333" textLength="22.80" lengthAdjust="spacingAndGlyphs">Transition</text>
<text x="127.70" y="389.60" font-size="5.6" fill="#333" textLength="49.20" lengthAdjust="spacingAndGlyphs">12 month Fiix-period</text>
<path d="M37,452.2 C50,458 58,461.6 66.2,461.6 C76,461.6 86,455 93.8,450.1" fill="none" stroke="#aab2cf" stroke-width="0.65" stroke-dasharray="1.8 0.5"/>
<path d="M37,500.7 C50,493 60,486.5 70.3,486.5 C80,486.5 88,489 93.8,492.4" fill="none" stroke="#aab2cf" stroke-width="0.65" stroke-dasharray="1.8 0.5"/>
<path d="M100.4,456.2 C104,460 108,464.6 113,464.6 C116,464.6 118,463.5 119.6,462.8" fill="none" stroke="#aab2cf" stroke-width="0.65" stroke-dasharray="1.8 0.5"/>
<path d="M100.4,491.2 C102,490 104,489.2 106.5,489.2 C112,489.2 118,494 124.2,502.3" fill="none" stroke="#aab2cf" stroke-width="0.65" stroke-dasharray="1.8 0.5"/>
<path d="M131.1,465.5 C140,474 150,481 160.8,482.7 C168,483 175,482 181.2,480.8" fill="none" stroke="#aab2cf" stroke-width="0.65" stroke-dasharray="1.8 0.5"/>
<path d="M131.1,501.9 C136,501.5 142,501.2 146.9,501.5 C155,503 161,508 166.2,513.5" fill="none" stroke="#aab2cf" stroke-width="0.65" stroke-dasharray="1.8 0.5"/>
<path d="M37.42,488.65 L38.97,490.20 L37.42,491.75 L35.88,490.20 Z" fill="#0f2c6e"/>
<path d="M42.55,472.15 L44.10,473.70 L42.55,475.25 L41.00,473.70 Z" fill="#0f2c6e"/>
<path d="M47.67,469.15 L49.22,470.70 L47.67,472.25 L46.12,470.70 Z" fill="#0f2c6e"/>
<path d="M52.80,496.15 L54.35,497.70 L52.80,499.25 L51.25,497.70 Z" fill="#0f2c6e"/>
<path d="M57.92,442.15 L59.47,443.70 L57.92,445.25 L56.38,443.70 Z" fill="#0f2c6e"/>
<path d="M63.05,452.50 L64.60,454.05 L63.05,455.60 L61.50,454.05 Z" fill="#0f2c6e"/>
<path d="M68.17,477.85 L69.72,479.40 L68.17,480.95 L66.62,479.40 Z" fill="#0f2c6e"/>
<path d="M73.30,505.00 L74.85,506.55 L73.30,508.10 L71.75,506.55 Z" fill="#0f2c6e"/>
<path d="M78.42,414.70 L79.97,416.25 L78.42,417.80 L76.88,416.25 Z" fill="#0f2c6e"/>
<path d="M83.55,505.00 L85.10,506.55 L83.55,508.10 L82.00,506.55 Z" fill="#0f2c6e"/>
<path d="M88.67,496.15 L90.22,497.70 L88.67,499.25 L87.12,497.70 Z" fill="#0f2c6e"/>
<path d="M93.80,447.85 L95.35,449.40 L93.80,450.95 L92.25,449.40 Z" fill="#0f2c6e"/>
<path d="M100.70,503.65 L102.25,505.20 L100.70,506.75 L99.15,505.20 Z" fill="#0f2c6e"/>
<path d="M105.40,443.50 L106.95,445.05 L105.40,446.60 L103.85,445.05 Z" fill="#0f2c6e"/>
<path d="M110.10,472.15 L111.65,473.70 L110.10,475.25 L108.55,473.70 Z" fill="#0f2c6e"/>
<path d="M114.80,484.00 L116.35,485.55 L114.80,487.10 L113.25,485.55 Z" fill="#0f2c6e"/>
<path d="M119.50,460.15 L121.05,461.70 L119.50,463.25 L117.95,461.70 Z" fill="#0f2c6e"/>
<path d="M124.20,461.65 L125.75,463.20 L124.20,464.75 L122.65,463.20 Z" fill="#0f2c6e"/>
<path d="M131.50,493.30 L133.05,494.85 L131.50,496.40 L129.95,494.85 Z" fill="#0f2c6e"/>
<path d="M135.80,502.15 L137.35,503.70 L135.80,505.25 L134.25,503.70 Z" fill="#0f2c6e"/>
<path d="M140.50,491.65 L142.05,493.20 L140.50,494.75 L138.95,493.20 Z" fill="#0f2c6e"/>
<path d="M145.10,479.65 L146.65,481.20 L145.10,482.75 L143.55,481.20 Z" fill="#0f2c6e"/>
<path d="M149.70,491.65 L151.25,493.20 L149.70,494.75 L148.15,493.20 Z" fill="#0f2c6e"/>
<path d="M154.20,514.15 L155.75,515.70 L154.20,517.25 L152.65,515.70 Z" fill="#0f2c6e"/>
<path d="M158.50,502.15 L160.05,503.70 L158.50,505.25 L156.95,503.70 Z" fill="#0f2c6e"/>
<path d="M163.10,491.65 L164.65,493.20 L163.10,494.75 L161.55,493.20 Z" fill="#0f2c6e"/>
<path d="M167.40,490.15 L168.95,491.70 L167.40,493.25 L165.85,491.70 Z" fill="#0f2c6e"/>
<path d="M172.00,502.15 L173.55,503.70 L172.00,505.25 L170.45,503.70 Z" fill="#0f2c6e"/>
<path d="M176.60,500.50 L178.15,502.05 L176.60,503.60 L175.05,502.05 Z" fill="#0f2c6e"/>
<path d="M181.20,488.65 L182.75,490.20 L181.20,491.75 L179.65,490.20 Z" fill="#0f2c6e"/>
<line x1="37.40" y1="476.50" x2="93.80" y2="471.50" stroke="#a50d2c" stroke-width="1.8" />
<line x1="100.80" y1="473.50" x2="124.20" y2="482.30" stroke="#a50d2c" stroke-width="1.8" />
<line x1="132.00" y1="483.90" x2="181.20" y2="504.20" stroke="#a50d2c" stroke-width="1.8" />
<text x="190.10" y="440.70" font-size="5.6" fill="#333" textLength="27.20" lengthAdjust="spacingAndGlyphs">Intercept 1:</text>
<text x="236.80" y="440.70" font-size="5.6" fill="#333" text-anchor="end" textLength="10.80" lengthAdjust="spacingAndGlyphs">2.57</text>
<text x="190.10" y="456.90" font-size="5.6" fill="#333" textLength="24.50" lengthAdjust="spacingAndGlyphs">Segment 1:</text>
<text x="236.80" y="456.90" font-size="5.6" fill="#333" text-anchor="end" textLength="10.80" lengthAdjust="spacingAndGlyphs">0.03</text>
<text x="190.10" y="463.20" font-size="5.6" fill="#333" textLength="24.50" lengthAdjust="spacingAndGlyphs">Segment 2:</text>
<text x="236.80" y="463.20" font-size="5.6" fill="#333" text-anchor="end" textLength="12.10" lengthAdjust="spacingAndGlyphs">-0.12</text>
<text x="190.10" y="469.40" font-size="5.6" fill="#333" textLength="24.50" lengthAdjust="spacingAndGlyphs">Segment 3:</text>
<text x="236.80" y="469.40" font-size="5.6" fill="#333" text-anchor="end" textLength="12.10" lengthAdjust="spacingAndGlyphs">-0.12</text>
<text x="190.10" y="479.40" font-size="5.6" fill="#333" textLength="28.50" lengthAdjust="spacingAndGlyphs">R squared =</text>
<text x="236.80" y="479.40" font-size="5.6" fill="#333" text-anchor="end" textLength="10.80" lengthAdjust="spacingAndGlyphs">0.20</text>
<text x="190.10" y="485.80" font-size="5.6" fill="#333" textLength="22.00" lengthAdjust="spacingAndGlyphs">P = 0.007</text>
<text x="252.50" y="381.90" font-size="11" fill="#000" stroke="#000" stroke-width="0.45" font-weight="bold">F</text>
<line x1="277.10" y1="394.00" x2="277.10" y2="519.10" stroke="#111" stroke-width="1.1" />
<line x1="274.10" y1="518.60" x2="277.10" y2="518.60" stroke="#111" stroke-width="1.0" />
<text x="270.70" y="520.80" font-size="6.3" fill="#333" stroke="#333" stroke-width="0.2" text-anchor="end" textLength="3.10" lengthAdjust="spacingAndGlyphs">0</text>
<line x1="275.50" y1="511.00" x2="277.10" y2="511.00" stroke="#111" stroke-width="0.9" />
<line x1="274.10" y1="503.40" x2="277.10" y2="503.40" stroke="#111" stroke-width="1.0" />
<text x="270.70" y="505.60" font-size="6.3" fill="#333" stroke="#333" stroke-width="0.2" text-anchor="end" textLength="3.10" lengthAdjust="spacingAndGlyphs">1</text>
<line x1="275.50" y1="495.80" x2="277.10" y2="495.80" stroke="#111" stroke-width="0.9" />
<line x1="274.10" y1="488.20" x2="277.10" y2="488.20" stroke="#111" stroke-width="1.0" />
<text x="270.70" y="490.40" font-size="6.3" fill="#333" stroke="#333" stroke-width="0.2" text-anchor="end" textLength="3.10" lengthAdjust="spacingAndGlyphs">2</text>
<line x1="275.50" y1="480.60" x2="277.10" y2="480.60" stroke="#111" stroke-width="0.9" />
<line x1="274.10" y1="473.00" x2="277.10" y2="473.00" stroke="#111" stroke-width="1.0" />
<text x="270.70" y="475.20" font-size="6.3" fill="#333" stroke="#333" stroke-width="0.2" text-anchor="end" textLength="3.10" lengthAdjust="spacingAndGlyphs">3</text>
<line x1="275.50" y1="465.40" x2="277.10" y2="465.40" stroke="#111" stroke-width="0.9" />
<line x1="274.10" y1="457.80" x2="277.10" y2="457.80" stroke="#111" stroke-width="1.0" />
<text x="270.70" y="460.00" font-size="6.3" fill="#333" stroke="#333" stroke-width="0.2" text-anchor="end" textLength="3.10" lengthAdjust="spacingAndGlyphs">4</text>
<line x1="275.50" y1="450.20" x2="277.10" y2="450.20" stroke="#111" stroke-width="0.9" />
<line x1="274.10" y1="442.60" x2="277.10" y2="442.60" stroke="#111" stroke-width="1.0" />
<text x="270.70" y="444.80" font-size="6.3" fill="#333" stroke="#333" stroke-width="0.2" text-anchor="end" textLength="3.10" lengthAdjust="spacingAndGlyphs">5</text>
<line x1="275.50" y1="435.00" x2="277.10" y2="435.00" stroke="#111" stroke-width="0.9" />
<line x1="274.10" y1="427.40" x2="277.10" y2="427.40" stroke="#111" stroke-width="1.0" />
<text x="270.70" y="429.60" font-size="6.3" fill="#333" stroke="#333" stroke-width="0.2" text-anchor="end" textLength="3.10" lengthAdjust="spacingAndGlyphs">6</text>
<line x1="275.50" y1="419.80" x2="277.10" y2="419.80" stroke="#111" stroke-width="0.9" />
<line x1="274.10" y1="412.20" x2="277.10" y2="412.20" stroke="#111" stroke-width="1.0" />
<text x="270.70" y="414.40" font-size="6.3" fill="#333" stroke="#333" stroke-width="0.2" text-anchor="end" textLength="3.10" lengthAdjust="spacingAndGlyphs">7</text>
<line x1="275.50" y1="404.60" x2="277.10" y2="404.60" stroke="#111" stroke-width="0.9" />
<line x1="274.10" y1="397.00" x2="277.10" y2="397.00" stroke="#111" stroke-width="1.0" />
<text x="270.70" y="399.20" font-size="6.3" fill="#333" stroke="#333" stroke-width="0.2" text-anchor="end" textLength="3.10" lengthAdjust="spacingAndGlyphs">8</text>
<line x1="276.60" y1="518.60" x2="345.00" y2="518.60" stroke="#111" stroke-width="1.4" />
<line x1="343.40" y1="520.20" x2="346.60" y2="517.00" stroke="#111" stroke-width="1.0" />
<line x1="350.10" y1="518.60" x2="373.40" y2="518.60" stroke="#111" stroke-width="1.4" />
<line x1="348.50" y1="520.20" x2="351.70" y2="517.00" stroke="#111" stroke-width="1.0" />
<line x1="371.80" y1="520.20" x2="375.00" y2="517.00" stroke="#111" stroke-width="1.0" />
<line x1="378.40" y1="518.60" x2="431.10" y2="518.60" stroke="#111" stroke-width="1.4" />
<line x1="376.80" y1="520.20" x2="380.00" y2="517.00" stroke="#111" stroke-width="1.0" />
<line x1="277.20" y1="518.60" x2="277.20" y2="521.20" stroke="#111" stroke-width="1.0" />
<line x1="294.22" y1="518.60" x2="294.22" y2="521.20" stroke="#111" stroke-width="1.0" />
<line x1="311.25" y1="518.60" x2="311.25" y2="521.20" stroke="#111" stroke-width="1.0" />
<line x1="328.27" y1="518.60" x2="328.27" y2="521.20" stroke="#111" stroke-width="1.0" />
<line x1="345.00" y1="518.60" x2="345.00" y2="521.20" stroke="#111" stroke-width="1.0" />
<line x1="359.60" y1="518.60" x2="359.60" y2="521.20" stroke="#111" stroke-width="1.0" />
<line x1="386.70" y1="518.60" x2="386.70" y2="521.20" stroke="#111" stroke-width="1.0" />
<line x1="400.20" y1="518.60" x2="400.20" y2="521.20" stroke="#111" stroke-width="1.0" />
<line x1="414.60" y1="518.60" x2="414.60" y2="521.20" stroke="#111" stroke-width="1.0" />
<line x1="428.40" y1="518.60" x2="428.40" y2="521.20" stroke="#111" stroke-width="1.0" />
<text x="277.20" y="530.40" font-size="7.0" fill="#333" stroke="#333" stroke-width="0.2" text-anchor="middle" textLength="3.50" lengthAdjust="spacingAndGlyphs">0</text>
<text x="294.20" y="530.40" font-size="7.0" fill="#333" stroke="#333" stroke-width="0.2" text-anchor="middle" textLength="3.50" lengthAdjust="spacingAndGlyphs">3</text>
<text x="311.10" y="530.40" font-size="7.0" fill="#333" stroke="#333" stroke-width="0.2" text-anchor="middle" textLength="3.50" lengthAdjust="spacingAndGlyphs">6</text>
<text x="328.00" y="530.40" font-size="7.0" fill="#333" stroke="#333" stroke-width="0.2" text-anchor="middle" textLength="3.50" lengthAdjust="spacingAndGlyphs">9</text>
<text x="345.20" y="530.40" font-size="7.0" fill="#333" stroke="#333" stroke-width="0.2" text-anchor="middle" textLength="7.00" lengthAdjust="spacingAndGlyphs">12</text>
<text x="359.60" y="530.40" font-size="7.0" fill="#333" stroke="#333" stroke-width="0.2" text-anchor="middle" textLength="7.00" lengthAdjust="spacingAndGlyphs">15</text>
<text x="373.40" y="530.40" font-size="7.0" fill="#333" stroke="#333" stroke-width="0.2" text-anchor="middle" textLength="7.00" lengthAdjust="spacingAndGlyphs">18</text>
<text x="386.70" y="530.40" font-size="7.0" fill="#333" stroke="#333" stroke-width="0.2" text-anchor="middle" textLength="7.00" lengthAdjust="spacingAndGlyphs">21</text>
<text x="400.20" y="530.40" font-size="7.0" fill="#333" stroke="#333" stroke-width="0.2" text-anchor="middle" textLength="7.00" lengthAdjust="spacingAndGlyphs">24</text>
<text x="414.60" y="530.40" font-size="7.0" fill="#333" stroke="#333" stroke-width="0.2" text-anchor="middle" textLength="7.00" lengthAdjust="spacingAndGlyphs">27</text>
<text x="428.40" y="530.40" font-size="7.0" fill="#333" stroke="#333" stroke-width="0.2" text-anchor="middle" textLength="7.00" lengthAdjust="spacingAndGlyphs">30</text>
<text x="341.60" y="542.00" font-size="9" fill="#333" stroke="#333" stroke-width="0.25" textLength="22.70" lengthAdjust="spacingAndGlyphs">Months</text>
<text x="259.20" y="456.40" font-size="8.6" fill="#333" stroke="#333" stroke-width="0.25" text-anchor="middle" textLength="100.00" lengthAdjust="spacingAndGlyphs" transform="rotate(-90 259.20 456.40)">MB incidence (% per patient year)</text>
<text x="297.20" y="392.60" font-size="5.6" fill="#333" textLength="47.00" lengthAdjust="spacingAndGlyphs">12 month PT-period</text>
<text x="354.90" y="392.60" font-size="5.6" fill="#333" textLength="22.50" lengthAdjust="spacingAndGlyphs">Transition</text>
<text x="388.10" y="392.60" font-size="5.6" fill="#333" textLength="49.60" lengthAdjust="spacingAndGlyphs">12 month Fiix-period</text>
<path d="M282.4,444.6 C295,452 308,462.3 322.7,462.3 C332,462.3 338,461 344.2,459.7" fill="none" stroke="#aab2cf" stroke-width="0.65" stroke-dasharray="1.8 0.5"/>
<path d="M282,489.5 C292,487 300,484.2 310.8,484.2 C322,484.2 332,488 344.5,497.7" fill="none" stroke="#aab2cf" stroke-width="0.65" stroke-dasharray="1.8 0.5"/>
<path d="M350.4,462.3 C354,465 357,466.9 361.2,466.9 C365,466.9 369,463 372.7,460.3" fill="none" stroke="#aab2cf" stroke-width="0.65" stroke-dasharray="1.8 0.5"/>
<path d="M350.4,495.4 C354,493 357,491.1 361.2,491.1 C365,491.1 369,494 372.7,496.9" fill="none" stroke="#aab2cf" stroke-width="0.65" stroke-dasharray="1.8 0.5"/>
<path d="M377.4,461.8 C385,465 390,467.4 397.7,467.4 C407,467.4 416,462 426.9,456.9" fill="none" stroke="#aab2cf" stroke-width="0.65" stroke-dasharray="1.8 0.5"/>
<path d="M377.4,496.9 C385,493 390,489.5 397.7,489.5 C407,489.5 416,494 426.9,498.5" fill="none" stroke="#aab2cf" stroke-width="0.65" stroke-dasharray="1.8 0.5"/>
<path d="M282.40,474.62 L283.90,477.32 L280.90,477.32 Z" fill="#0f2c6e"/>
<path d="M288.50,447.32 L290.00,450.02 L287.00,450.02 Z" fill="#0f2c6e"/>
<path d="M294.20,471.82 L295.70,474.52 L292.70,474.52 Z" fill="#0f2c6e"/>
<path d="M299.70,491.82 L301.20,494.52 L298.20,494.52 Z" fill="#0f2c6e"/>
<path d="M305.50,435.32 L307.00,438.02 L304.00,438.02 Z" fill="#0f2c6e"/>
<path d="M311.20,464.12 L312.70,466.82 L309.70,466.82 Z" fill="#0f2c6e"/>
<path d="M316.90,481.03 L318.40,483.73 L315.40,483.73 Z" fill="#0f2c6e"/>
<path d="M322.40,477.62 L323.90,480.32 L320.90,480.32 Z" fill="#0f2c6e"/>
<path d="M328.00,499.23 L329.50,501.93 L326.50,501.93 Z" fill="#0f2c6e"/>
<path d="M333.80,479.23 L335.30,481.93 L332.30,481.93 Z" fill="#0f2c6e"/>
<path d="M339.30,489.93 L340.80,492.62 L337.80,492.62 Z" fill="#0f2c6e"/>
<path d="M345.00,459.62 L346.50,462.32 L343.50,462.32 Z" fill="#0f2c6e"/>
<path d="M351.20,486.93 L352.70,489.62 L349.70,489.62 Z" fill="#0f2c6e"/>
<path d="M355.30,446.12 L356.80,448.82 L353.80,448.82 Z" fill="#0f2c6e"/>
<path d="M359.60,474.62 L361.10,477.32 L358.10,477.32 Z" fill="#0f2c6e"/>
<path d="M363.90,496.12 L365.40,498.82 L362.40,498.82 Z" fill="#0f2c6e"/>
<path d="M368.40,451.93 L369.90,454.62 L366.90,454.62 Z" fill="#0f2c6e"/>
<path d="M372.70,432.23 L374.20,434.93 L371.20,434.93 Z" fill="#0f2c6e"/>
<path d="M378.00,496.12 L379.50,498.82 L376.50,498.82 Z" fill="#0f2c6e"/>
<path d="M382.60,505.03 L384.10,507.73 L381.10,507.73 Z" fill="#0f2c6e"/>
<path d="M387.20,484.12 L388.70,486.82 L385.70,486.82 Z" fill="#0f2c6e"/>
<path d="M391.80,494.23 L393.30,496.93 L390.30,496.93 Z" fill="#0f2c6e"/>
<path d="M396.50,471.82 L398.00,474.52 L395.00,474.52 Z" fill="#0f2c6e"/>
<path d="M401.10,494.23 L402.60,496.93 L399.60,496.93 Z" fill="#0f2c6e"/>
<path d="M405.40,471.82 L406.90,474.52 L403.90,474.52 Z" fill="#0f2c6e"/>
<path d="M410.00,505.03 L411.50,507.73 L408.50,507.73 Z" fill="#0f2c6e"/>
<path d="M414.60,468.73 L416.10,471.43 L413.10,471.43 Z" fill="#0f2c6e"/>
<path d="M418.90,481.03 L420.40,483.73 L417.40,483.73 Z" fill="#0f2c6e"/>
<path d="M423.50,451.82 L425.00,454.52 L422.00,454.52 Z" fill="#0f2c6e"/>
<path d="M428.00,465.62 L429.50,468.32 L426.50,468.32 Z" fill="#0f2c6e"/>
<line x1="283.00" y1="466.90" x2="345.00" y2="478.50" stroke="#a50d2c" stroke-width="1.8" />
<line x1="351.20" y1="478.80" x2="372.70" y2="479.20" stroke="#a50d2c" stroke-width="1.8" />
<line x1="378.50" y1="479.20" x2="427.70" y2="477.40" stroke="#a50d2c" stroke-width="1.8" />
<text x="434.80" y="442.90" font-size="5.6" fill="#333" textLength="27.20" lengthAdjust="spacingAndGlyphs">Intercept 1:</text>
<text x="485.00" y="442.90" font-size="5.6" fill="#333" text-anchor="end" textLength="10.90" lengthAdjust="spacingAndGlyphs">3.48</text>
<text x="434.80" y="459.20" font-size="5.6" fill="#333" textLength="24.50" lengthAdjust="spacingAndGlyphs">Segment 1:</text>
<text x="485.00" y="459.20" font-size="5.6" fill="#333" text-anchor="end" textLength="13.00" lengthAdjust="spacingAndGlyphs">-0.07</text>
<text x="434.80" y="465.20" font-size="5.6" fill="#333" textLength="24.50" lengthAdjust="spacingAndGlyphs">Segment 2:</text>
<text x="485.00" y="465.20" font-size="5.6" fill="#333" text-anchor="end" textLength="10.90" lengthAdjust="spacingAndGlyphs">0.00</text>
<text x="434.80" y="471.40" font-size="5.6" fill="#333" textLength="24.50" lengthAdjust="spacingAndGlyphs">Segment 3:</text>
<text x="485.00" y="471.40" font-size="5.6" fill="#333" text-anchor="end" textLength="10.90" lengthAdjust="spacingAndGlyphs">0.01</text>
<text x="434.80" y="482.20" font-size="5.6" fill="#333" textLength="25.50" lengthAdjust="spacingAndGlyphs">R squared:</text>
<text x="485.00" y="482.20" font-size="5.6" fill="#333" text-anchor="end" textLength="10.90" lengthAdjust="spacingAndGlyphs">0.04</text>
<text x="434.80" y="488.20" font-size="5.6" fill="#333" textLength="78.20" lengthAdjust="spacingAndGlyphs">Slopes  do not differ significantly</text>
</svg>
</div>
</body></html>
